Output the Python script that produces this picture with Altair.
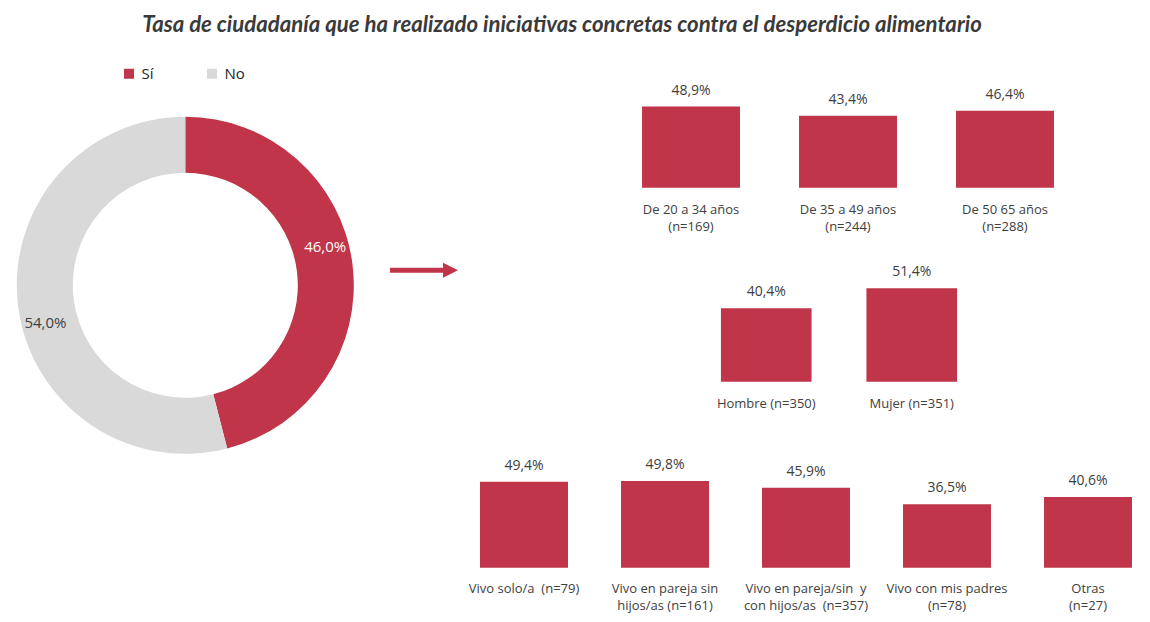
import altair as alt
import pandas as pd

RED = "#C0354A"
GRAY = "#D9D9D9"
TXT = "#404040"
FONT = "Open Sans"

title_text = ["Tasa de ciudadanía que ha realizado iniciativas concretas contra el desperdicio alimentario"]

donut_cats = ["Sí", "No"]
donut_vals = [46.0, 54.0]

age_cats = ["De 20 a 34 años\n(n=169)", "De 35 a 49 años\n(n=244)", "De 50 65 años\n(n=288)"]
age_vals = [48.9, 43.4, 46.4]

sex_cats = ["Hombre (n=350)", "Mujer (n=351)"]
sex_vals = [40.4, 51.4]

home_cats = ["Vivo solo/a \u00a0(n=79)", "Vivo en pareja sin\nhijos/as (n=161)",
             "Vivo en pareja/sin \u00a0y\ncon hijos/as \u00a0(n=357)", "Vivo con mis padres\n(n=78)",
             "Otras\n(n=27)"]
home_vals = [49.4, 49.8, 45.9, 36.5, 40.6]


def fmt(v):
    return f"{v:.1f}".replace(".", ",") + "%"


# Title
title_df = pd.DataFrame({"t": title_text})
title = alt.Chart(title_df).mark_text(
    font="Lato", fontSize=22.2, fontWeight="bold", fontStyle="italic", color="#3A3A3A",
    align="center", baseline="alphabetic"
).encode(x=alt.value(554), y=alt.value(23.5), text="t:N")

# Donut
donut_df = pd.DataFrame({"cat": donut_cats, "v": donut_vals,
                         "lab": [fmt(v) for v in donut_vals],
                         "o": list(range(len(donut_cats)))})
arc = alt.Chart(donut_df).mark_arc(radius=168.5, radius2=112.5).encode(
    theta=alt.Theta("v:Q", stack=True),
    order=alt.Order("o:Q"),
    color=alt.Color("cat:N", sort=donut_cats,
                    scale=alt.Scale(domain=donut_cats, range=[RED, GRAY]),
                    legend=alt.Legend(orient="none", legendX=113.5, legendY=58,
                                      direction="horizontal", title=None,
                                      symbolType="square", symbolSize=100,
                                      symbolStrokeWidth=0, labelFont=FONT,
                                      labelFontSize=15, labelColor="#262626",
                                      labelOffset=5, columnPadding=50, padding=0)),
    x=alt.value(177.3), y=alt.value(277.3),
)
arc_txt = alt.Chart(donut_df).mark_text(
    radius=145, thetaOffset=-0.14, font=FONT, fontSize=15
).encode(
    theta=alt.Theta("v:Q", stack=True),
    order=alt.Order("o:Q"),
    text="lab:N",
    color=alt.condition("datum.cat == 'Sí'", alt.value("white"), alt.value(TXT)),
    x=alt.value(177.3), y=alt.value(277.3),
)
donut = alt.layer(arc, arc_txt)

# Arrow
shaft = alt.Chart(title_df).mark_rule(color=RED, strokeWidth=5).encode(
    x=alt.value(382), x2=alt.value(437), y=alt.value(262.3))
head = alt.Chart(title_df).mark_point(
    shape="M-1,-1L1,0L-1,1Z", filled=True, color=RED, opacity=1, size=225
).encode(x=alt.value(442.5), y=alt.value(262.3))


def bar_group(cats, vals, x0, x1, base, k, label_y, pin):
    df = pd.DataFrame({"cat": cats, "v": vals, "lab": [fmt(v) for v in vals]})
    x = alt.X("cat:N", sort=cats,
              scale=alt.Scale(range=[x0, x1], paddingInner=pin, paddingOuter=pin / 2),
              axis=None)
    y = alt.Y("v:Q", scale=alt.Scale(domain=[0, 100], range=[base, base - 100 * k]),
              axis=None)
    bars = alt.Chart(df).mark_bar(color=RED).encode(x=x, y=y)
    vt = alt.Chart(df).mark_text(dy=-12, baseline="alphabetic", font=FONT,
                                 fontSize=14, color=TXT).encode(x=x, y=y, text="lab:N")
    ct = alt.Chart(df).mark_text(baseline="alphabetic", lineBreak="\n", lineHeight=17,
                                 font=FONT, fontSize=13, color=TXT).encode(
        x=x, y=alt.value(label_y), text="cat:N")
    return alt.layer(bars, vt, ct)


age = bar_group(age_cats, age_vals, 604.5, 1075.5, 179.7, 1.659, 206, 0.376)
sex = bar_group(sex_cats, sex_vals, 685.5, 976.5, 373.7, 1.82, 399.5, 0.377)
home = bar_group(home_cats, home_vals, 445.5, 1150.5, 559.7, 1.7406, 585, 0.376)

chart = alt.layer(title, donut, shaft, head, age, sex, home).resolve_scale(
    x="independent", y="independent"
).properties(
    width=1134, height=606, padding=0,
    autosize=alt.AutoSizeParams(type="none"),
).configure_view(stroke=None)

chart.save("out.html", embed_options={"renderer": "svg", "actions": False})
